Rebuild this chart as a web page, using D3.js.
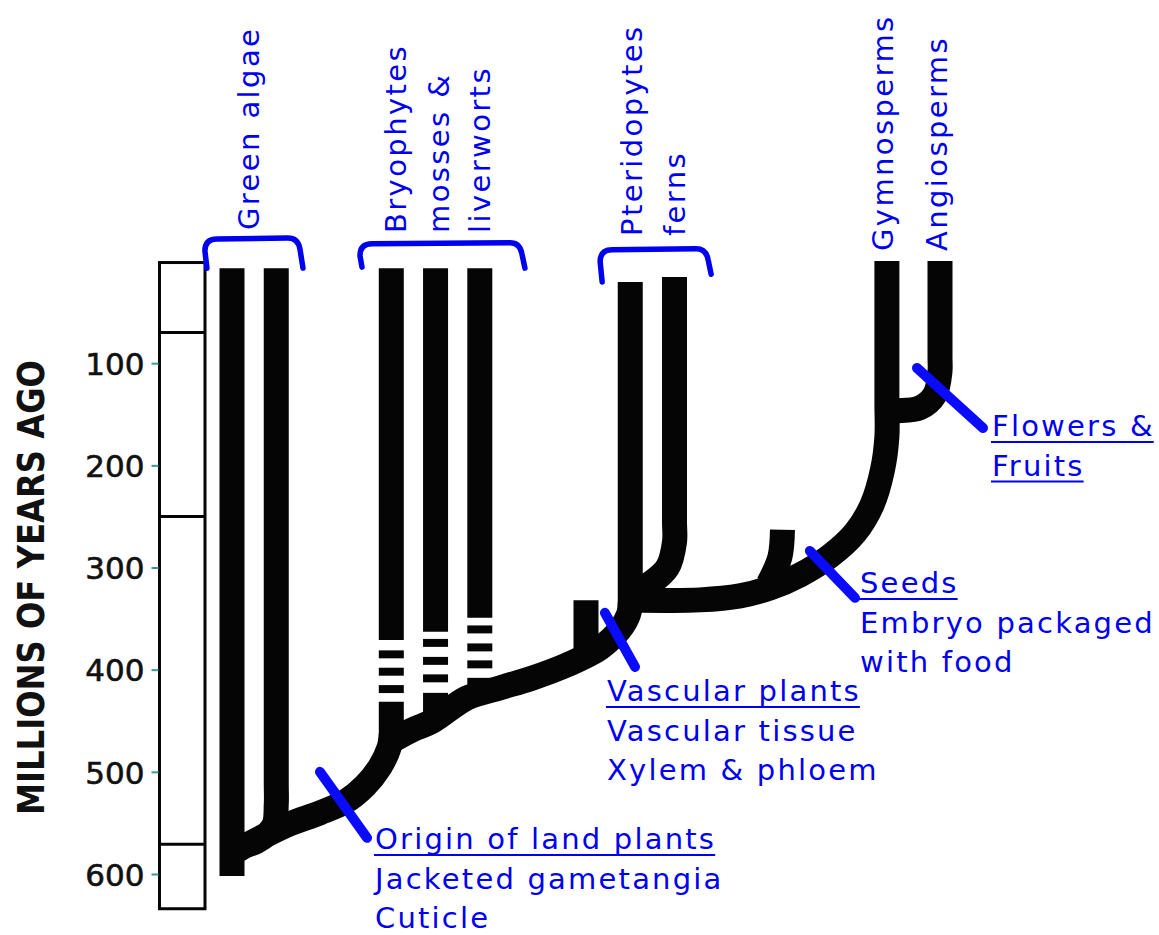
<!DOCTYPE html>
<html><head><meta charset="utf-8">
<script src="https://cdn.jsdelivr.net/npm/d3@7"></script>
<style>body{margin:0;background:#fff} svg{display:block}</style>
</head><body><svg id="c" width="1159" height="935"></svg>
<script>
// ---------------- data (millions of years ago; lineage columns) ----------------
const ageTicks = [100, 200, 300, 400, 500, 600];
const eraBoundaries = [70, 250, 571];
const timeSpan = [1.5, 634];
const axisTitle = "MILLIONS OF YEARS AGO";

// centre lines of branches: [column, Mya]
const algae1 = [[0, 7], [0, 602]];
const algae2 = [[2.5, 7], [2.5, 300], [2.5, 510], [2.5, 532], [2.35, 553], [1.4, 568], [0, 575]];
const landTrunk = [[0, 580], [0.45, 575.3], [1.86, 562.6], [3.28, 550.9], [4.97, 540.1], [6.38, 529.4], [7.51, 513.7], [8.36, 495.1], [8.87, 476.5], [9, 463]];
const vascularTrunk = [[9, 470], [10.06, 460], [11.36, 450], [13.28, 427.6], [15.14, 417.8], [17, 408], [18.93, 395.3], [20.8, 378.7], [21.9, 361], [22.4, 346], [22.5, 334]];
const fern1 = [[22.5, 20.5], [22.5, 338]];
const fern2 = [[25, 15.7], [25, 150], [25, 255], [25, 275], [24.6, 300], [23.6, 316], [22.5, 327]];
const seedTrunk = [[22.5, 331.7], [26.44, 331.7], [28.7, 327.8], [30.4, 320], [32.1, 307.2], [33.8, 288.6], [35.2, 266.1], [36.16, 238.7], [36.75, 204.5], [37, 172], [37, 140], [37, 80], [37, 0]];
const angio = [[40, 0], [40, 50], [40, 95], [40, 108], [39.7, 131], [38.85, 143.8], [37.6, 146.5], [37, 146.5]];
const extinctStub1 = [[20, 332], [20, 385]];
const extinctStub2 = [[31.1, 263], [30.95, 290], [30.3, 316]];
const branches = [algae1, algae2, landTrunk, vascularTrunk, fern1, fern2, seedTrunk, angio, extinctStub1, extinctStub2];

// bryophytes: solid top, fossil gap (dashes), resumed solid, base
const bryoCols = [9, 11.5, 14];
const bryoTop = [7, 7, 7];
const bryoSolidEnd = [371, 363, 349.3];
const bryoDashes = [[385, 402, 419], [373.8, 391.4, 408.5], [360.6, 378.2, 394.8]];
const bryoResume = [431.5, 422.7, 408];
const bryoBase = [468, 446, 422];

// clade brackets
const bracketNames = ["Green algae", "Bryophytes", "Pteridophytes"];
const bracketLeft = [-1.53, 7.23, 20.8];
const bracketRight = [3.84, 16.38, 26.9];
const bracketTop = [-21.5, -16.8, -11];
const bracketFootL = [7, 6, 20.5];
const bracketFootR = [7, 7, 13];

// clade labels (rotated)
const cladeLabels = ["Green algae", "Bryophytes", "mosses &", "liverworts", "Pteridopytes", "ferns", "Gymnosperms", "Angiosperms"];

// traits (synapomorphies)
const traitTitles = [["Origin of land plants"], ["Vascular plants"], ["Seeds"], ["Flowers &", "Fruits"]];
const traitNotes = [["Jacketed gametangia", "Cuticle"], ["Vascular tissue", "Xylem & phloem"], ["Embryo packaged", "with food"], []];
const traitSlashes = [[[4.97, 500], [7.63, 564.6]], [[21.07, 344.4], [22.77, 397.3]], [[32.65, 283.8], [35.2, 329.7]], [[38.7, 104.7], [42.43, 163.4]]];

// ---------------- layout ----------------
const svg = d3.select("#c");
const y = d3.scaleLinear().domain([0, 600]).range([261, 874]);
const x = d3.scaleLinear().domain([0, 40]).range([232, 940]);
const BLACK = "#050505", BLUE = "#0000f0", SLASH = "#0a0aff";
const W = 25;
const labelPos = [[259, 230], [406, 233], [449, 233], [490, 233], [642, 236], [685, 236], [893, 251], [947, 251]];
const traitPos = [[375, 849], [607, 701], [860, 593], [992, 436]];
const lineH = 39.5;

// time bar
const barX0 = 159.5, barX1 = 205;
svg.append("rect").attr("x", barX0).attr("y", y(timeSpan[0])).attr("width", barX1 - barX0)
  .attr("height", y(timeSpan[1]) - y(timeSpan[0])).attr("fill", "#fff").attr("stroke", BLACK).attr("stroke-width", 3);
svg.selectAll(".era").data(eraBoundaries).join("line")
  .attr("x1", barX0).attr("x2", barX1).attr("y1", d => y(d)).attr("y2", d => y(d))
  .attr("stroke", BLACK).attr("stroke-width", 3);

const axis = d3.axisLeft(y).tickValues(ageTicks).tickSize(7).tickPadding(7).tickFormat(d3.format("d"));
const ag = svg.append("g").attr("transform", `translate(${barX0 - 1},0)`).call(axis);
ag.select(".domain").remove();
ag.selectAll(".tick line").attr("stroke", "#3a9a9a").attr("stroke-width", 2);
ag.selectAll(".tick text").attr("font-family", "DejaVu Sans").attr("font-size", 31)
  .attr("fill", "#111").attr("stroke", "#111").attr("stroke-width", 0.6).attr("dy", "0.36em");

svg.append("text").attr("transform", `translate(44,${(360 + 815) / 2}) rotate(-90)`)
  .attr("text-anchor", "middle").attr("font-family", "DejaVu Sans").attr("font-weight", "bold")
  .attr("font-size", 37).attr("fill", "#111").attr("textLength", 455).attr("lengthAdjust", "spacingAndGlyphs")
  .text(axisTitle);

// branches
const line = d3.line().x(d => x(d[0])).y(d => y(d[1])).curve(d3.curveCatmullRom.alpha(0.5));
svg.append("g").selectAll("path").data(branches).join("path")
  .attr("d", line).attr("fill", "none").attr("stroke", BLACK).attr("stroke-width", W).attr("stroke-linecap", "butt");

// bryophyte columns
const bg = svg.append("g").attr("stroke", BLACK).attr("stroke-width", W);
bryoCols.forEach((c, i) => {
  bg.append("line").attr("x1", x(c)).attr("x2", x(c)).attr("y1", y(bryoTop[i])).attr("y2", y(bryoSolidEnd[i]));
  bg.selectAll(null).data(bryoDashes[i]).join("line")
    .attr("x1", x(c)).attr("x2", x(c)).attr("y1", d => y(d - 3.9)).attr("y2", d => y(d + 3.9));
  bg.append("line").attr("x1", x(c)).attr("x2", x(c)).attr("y1", y(bryoResume[i])).attr("y2", y(bryoBase[i]));
});

// brackets
bracketNames.forEach((n, i) => {
  const l = x(bracketLeft[i]), r = x(bracketRight[i]), t = y(bracketTop[i]);
  const fl = y(bracketFootL[i]), fr = y(bracketFootR[i]);
  const p = d3.path();
  p.moveTo(l + 2, fl);
  p.lineTo(l, t + 12);
  p.quadraticCurveTo(l, t, l + 12, t);
  p.lineTo(r - 12, t - 1);
  p.quadraticCurveTo(r - 2, t - 1, r, t + 10);
  p.lineTo(r + 3, fr);
  svg.append("path").attr("d", p.toString()).attr("fill", "none").attr("stroke", BLUE)
    .attr("stroke-width", 5.5).attr("stroke-linecap", "round").attr("stroke-linejoin", "round");
});

// rotated clade labels
svg.append("g").selectAll("text").data(cladeLabels).join("text")
  .attr("transform", (d, i) => `translate(${labelPos[i][0]},${labelPos[i][1]}) rotate(-90)`)
  .attr("font-family", "DejaVu Sans").attr("font-size", 29).attr("letter-spacing", 2.4)
  .attr("fill", BLUE).text(d => d);

// trait slashes
svg.append("g").selectAll("line").data(traitSlashes).join("line")
  .attr("x1", d => x(d[0][0])).attr("y1", d => y(d[0][1]))
  .attr("x2", d => x(d[1][0])).attr("y2", d => y(d[1][1]))
  .attr("stroke", SLASH).attr("stroke-width", 10).attr("stroke-linecap", "round");

// trait texts
traitTitles.forEach((titles, i) => {
  const [tx, ty] = traitPos[i];
  const all = titles.map(t => ({t, u: true})).concat(traitNotes[i].map(t => ({t, u: false})));
  all.forEach((o, k) => {
    const yy = ty + k * lineH;
    const te = svg.append("text").attr("x", tx).attr("y", yy).attr("font-family", "DejaVu Sans")
      .attr("font-size", 29).attr("letter-spacing", 2.2).attr("fill", BLUE).text(o.t);
    if (o.u) {
      const len = te.node().getComputedTextLength();
      svg.append("line").attr("x1", tx - 1).attr("x2", tx + len - 1).attr("y1", yy + 6).attr("y2", yy + 6)
        .attr("stroke", BLUE).attr("stroke-width", 2);
    }
  });
});
</script></body></html>
